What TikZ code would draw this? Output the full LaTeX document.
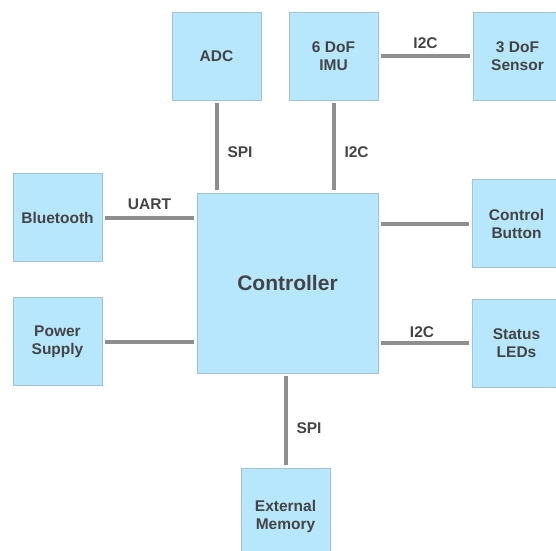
\documentclass[tikz,border=0pt]{standalone}
\usepackage{fontspec}
\setmainfont{Liberation Sans}
\definecolor{boxfill}{HTML}{B7E7FC}
\definecolor{boxline}{HTML}{A3C3D3}
\definecolor{txt}{HTML}{444444}
\definecolor{wire}{HTML}{8E8E8E}
\begin{document}
\begin{tikzpicture}[x=1pt,y=-1pt,
  blk/.style={draw=boxline, line width=0.9pt, fill=boxfill, minimum width=89pt, minimum height=88pt,
    inner sep=0pt, align=center, text=txt, font=\fontsize{15.5}{18}\selectfont\bfseries},
  wirestyle/.style={draw=wire, line width=4pt, shorten <=2.5pt, shorten >=2.5pt},
  lbl/.style={inner sep=0pt, text=txt, font=\fontsize{15.5}{18}\selectfont\bfseries}]
\useasboundingbox (0,0) rectangle (556,550);
\clip (0,0) rectangle (556,550);
\node[blk, minimum width=181pt, minimum height=180pt, font=\fontsize{21}{25}\selectfont\bfseries] (ctrl) at (287.5,283) {Controller};
\node[blk] (adc) at (216.5,56) {ADC};
\node[blk] (imu) at (333.5,56) {6 DoF\\IMU};
\node[blk] (sens) at (517.5,56) {3 DoF\\Sensor};
\node[blk] (bt) at (57.5,217.5) {Bluetooth};
\node[blk] (pwr) at (57.5,341.5) {Power\\Supply};
\node[blk] (btn) at (516.5,223.5) {Control\\Button};
\node[blk] (led) at (516.5,343) {Status\\LEDs};
\node[blk, minimum height=96pt] (mem) at (285.5,516) {External\\Memory};
\draw[wirestyle] (adc.south) -- node[lbl, midway, right=9pt, yshift=-6pt] {SPI} (adc.south |- ctrl.north);
\draw[wirestyle] (imu.south) -- node[lbl, midway, right=9pt, yshift=-6pt] {I2C} (imu.south |- ctrl.north);
\draw[wirestyle] (imu.east) -- node[lbl, midway, above=5pt] {I2C} (sens.west);
\draw[wirestyle] (bt.east) -- node[lbl, midway, above=6pt] {UART} (bt.east -| ctrl.west);
\draw[wirestyle] (pwr.east) -- (pwr.east -| ctrl.west);
\draw[wirestyle] (btn.west -| ctrl.east) -- (btn.west);
\draw[wirestyle] (led.west -| ctrl.east) -- node[lbl, midway, above=3.5pt, xshift=-3pt] {I2C} (led.west);
\draw[wirestyle] (mem.north |- ctrl.south) -- node[lbl, midway, right=9pt, yshift=-8pt] {SPI} (mem.north);
\end{tikzpicture}
\end{document}
